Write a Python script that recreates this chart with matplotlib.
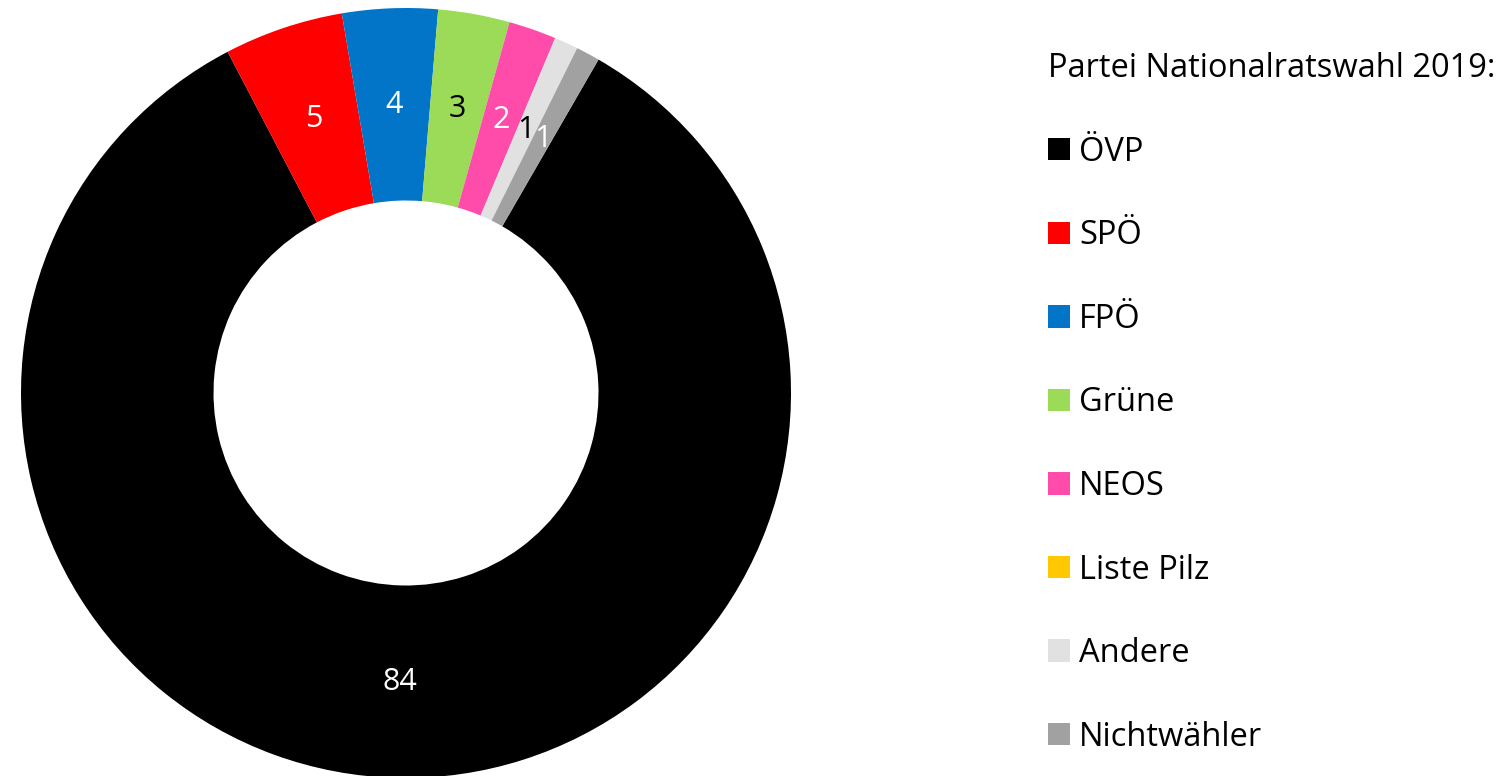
import matplotlib
matplotlib.use("Agg")
import matplotlib.pyplot as plt
from matplotlib.patches import Patch
import numpy as np

plt.rcParams["font.family"] = ["Open Sans", "DejaVu Sans"]

parteien = ["ÖVP", "SPÖ", "FPÖ", "Grüne", "NEOS", "Liste Pilz", "Andere", "Nichtwähler"]
anteile = [84, 5, 4, 3, 2, 0, 1, 1]
farben = ["#000000", "#FF0000", "#0275C8", "#9CDB58", "#FF4BAA", "#FFC800", "#E1E1E1", "#A1A1A1"]
label_farben = ["white", "white", "white", "black", "white", "white", "black", "white"]

W, H = 1499, 776
fig = plt.figure(figsize=(W / 100, H / 100), dpi=100)

# donut: centre (406, 393) px, outer radius 385 px
cx, cy, r = 406, 393, 385
ax = fig.add_axes([(cx - r) / W, (H - cy - r) / H, 2 * r / W, 2 * r / H])
wedges, _ = ax.pie(anteile, colors=farben, startangle=60, counterclock=False,
                   radius=1, wedgeprops=dict(width=0.5, linewidth=0))
ax.set_xlim(-1, 1)
ax.set_ylim(-1, 1)
ax.set_aspect("equal")

for w, v, c in zip(wedges, anteile, label_farben):
    if v == 0:
        continue
    mid = np.deg2rad((w.theta1 + w.theta2) / 2)
    ax.text(0.75 * np.cos(mid), 0.75 * np.sin(mid), str(v), color=c,
            ha="center", va="center", fontsize=22)

handles = [Patch(facecolor=f, edgecolor="none") for f in farben]
leg = fig.legend(handles, parteien, loc="upper left",
                 bbox_to_anchor=(1048 / W, 1 - 52 / H), frameon=False,
                 fontsize=23.5, title="Partei Nationalratswahl 2019:",
                 title_fontsize=23.5, alignment="left",
                 handlelength=0.68, handleheight=0.68, handletextpad=0.28,
                 labelspacing=1.55, borderpad=0, borderaxespad=0)

fig.savefig("out.png", dpi=100)
